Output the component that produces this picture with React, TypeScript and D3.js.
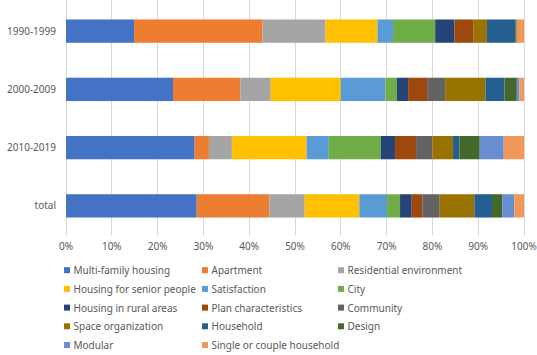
import React, { useEffect, useRef } from "react";
import * as d3 from "d3";

const categories = ["1990-1999", "2000-2009", "2010-2019", "total"];
const seriesNames = [
  "Multi-family housing",
  "Apartment",
  "Residential environment",
  "Housing for senior people",
  "Satisfaction",
  "City",
  "Housing in rural areas",
  "Plan characteristics",
  "Community",
  "Space organization",
  "Household",
  "Design",
  "Modular",
  "Single or couple household",
];
const colors = [
  "#4472C4", "#ED7D31", "#A5A5A5", "#FFC000", "#5B9BD5", "#70AD47", "#264478",
  "#9E480E", "#636363", "#997300", "#255E91", "#43682B", "#698ED0", "#F1975A",
];
// values per category (percent), in series order
const v1990 = [14.85, 28.1, 13.75, 11.35, 3.4, 9.2, 4.2, 4.2, 0, 2.9, 6.2, 0.3, 0, 1.6];
const v2000 = [23.36, 14.7, 6.64, 15.28, 9.74, 2.49, 2.47, 4.15, 3.93, 8.8, 4.15, 2.7, 0.57, 1.0];
const v2010 = [28.1, 3.12, 5.02, 16.3, 4.87, 11.35, 3.12, 4.59, 3.58, 4.5, 1.4, 4.43, 5.24, 4.43];
const vTotal = [28.54, 15.85, 7.73, 11.92, 6.05, 2.84, 2.55, 2.31, 3.8, 7.55, 3.86, 2.25, 2.62, 2.12];
const tickValues = [0, 0.1, 0.2, 0.3, 0.4, 0.5, 0.6, 0.7, 0.8, 0.9, 1.0];

const W = 537;
const H = 355;
const FONT = "'Noto Sans', sans-serif";

export default function App() {
  const ref = useRef<SVGSVGElement>(null);
  useEffect(() => {
    const svg = d3.select(ref.current);
    svg.selectAll("*").remove();
    const allValues = [v1990, v2000, v2010, vTotal];
    const rows = categories.map((c, i) => {
      const o: any = { cat: c };
      const tot = d3.sum(allValues[i]);
      seriesNames.forEach((s, j) => (o[s] = allValues[i][j] / tot));
      return o;
    });
    const stack = d3.stack<any>().keys(seriesNames);
    const layers = stack(rows);

    const x = d3.scaleLinear().domain([0, 1]).range([66, 524]);
    const y = d3.scaleBand().domain(categories).range([2, 235]).paddingInner(0.6).paddingOuter(0.3);

    // gridlines
    svg.append("g")
      .selectAll("line")
      .data(tickValues)
      .join("line")
      .attr("x1", (d) => x(d))
      .attr("x2", (d) => x(d))
      .attr("y1", 0)
      .attr("y2", 236)
      .attr("stroke", "#D9D9D9")
      .attr("stroke-width", 1)
      .attr("shape-rendering", "crispEdges");

    // bars
    const g = svg.append("g");
    layers.forEach((layer, j) => {
      g.append("g")
        .attr("fill", colors[j])
        .selectAll("rect")
        .data(layer)
        .join("rect")
        .attr("x", (d) => x(d[0]))
        .attr("width", (d) => Math.max(0, x(d[1]) - x(d[0])))
        .attr("y", (d: any) => y(d.data.cat)!)
        .attr("height", y.bandwidth());
    });

    // x tick labels
    svg.append("g")
      .selectAll("text")
      .data(tickValues)
      .join("text")
      .attr("x", (d) => x(d))
      .attr("y", 250)
      .attr("text-anchor", "middle")
      .attr("font-family", FONT)
      .attr("font-size", 10)
      .attr("fill", "#595959")
      .text((d) => d3.format(".0%")(d));

    // y labels
    svg.append("g")
      .selectAll("text")
      .data(categories)
      .join("text")
      .attr("x", 56)
      .attr("y", (d) => y(d)! + y.bandwidth() / 2)
      .attr("dy", "0.35em")
      .attr("text-anchor", "end")
      .attr("font-family", FONT)
      .attr("font-size", 10)
      .attr("fill", "#595959")
      .text((d) => d);

    // legend
    const colX = [64, 202, 338];
    const legend = svg.append("g");
    seriesNames.forEach((s, i) => {
      const col = i % 3;
      const row = Math.floor(i / 3);
      const ly = 270.7 + row * 18.7;
      const item = legend.append("g");
      item.append("rect")
        .attr("x", colX[col])
        .attr("y", ly - 3.5)
        .attr("width", 6)
        .attr("height", 6)
        .attr("fill", colors[i]);
      item.append("text")
        .attr("x", colX[col] + 9.5)
        .attr("y", ly)
        .attr("dy", "0.35em")
        .attr("font-family", FONT)
        .attr("font-size", 10)
        .attr("fill", "#595959")
        .text(s);
    });
  }, []);
  return (
    <svg
      ref={ref}
      width={W}
      height={H}
      style={{ position: "absolute", left: 0, top: 0, background: "#fff" }}
    />
  );
}
